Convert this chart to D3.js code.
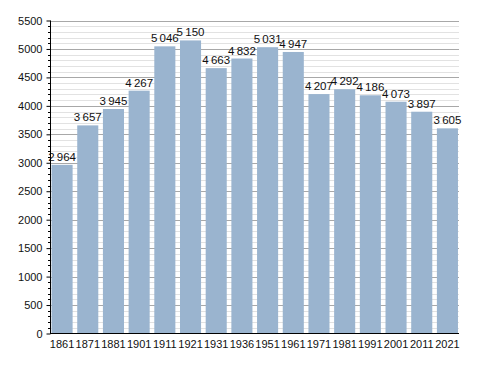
<!DOCTYPE html>
<html>
<head>
<meta charset="utf-8">
<script src="https://cdn.jsdelivr.net/npm/d3@7"></script>
<style>
  body { margin: 0; background: #fff; }
  text { font-family: "Liberation Sans", Arial, sans-serif; }
</style>
</head>
<body>
<aside></aside>
<script>
const width = 488;
const height = 373;

const years = ['1861', '1871', '1881', '1901', '1911', '1921', '1931', '1936',
    '1951', '1961', '1971', '1981', '1991', '2001', '2011', '2021'];
const population = [2964, 3657, 3945, 4267, 5046, 5150, 4663, 4832,
    5031, 4947, 4207, 4292, 4186, 4073, 3897, 3605];
const yTicks = [0, 500, 1000, 1500, 2000, 2500, 3000, 3500, 4000, 4500, 5000, 5500];

const svg = d3.select('aside')
    .append('svg')
    .attr('width', width)
    .attr('height', height);

const x = d3.scaleBand()
    .domain(years)
    .range([50, 459.5])
    .paddingInner(0.18)
    .paddingOuter(0.06);

const y = d3.scaleLinear()
    .domain([0, 5500])
    .range([333.5, 20.5]);

const minor = d3.range(0, 5501, 100);
const fmt = v => d3.format(',')(v).replace(',', '\u2009');

// grid
svg.selectAll('.minor')
    .data(minor.filter(d => d % 500 !== 0))
    .join('line')
    .attr('x1', 50).attr('x2', 459)
    .attr('y1', d => Math.round(y(d)) + 0.5)
    .attr('y2', d => Math.round(y(d)) + 0.5)
    .attr('stroke', '#e2e2e2');

svg.selectAll('.major')
    .data(yTicks.filter(d => d > 0))
    .join('line')
    .attr('x1', 50).attr('x2', 459)
    .attr('y1', d => Math.round(y(d)) + 0.5)
    .attr('y2', d => Math.round(y(d)) + 0.5)
    .attr('stroke', '#a8a8a8');

// bars
svg.selectAll('rect')
    .data(population)
    .join('rect')
    .attr('x', (d, i) => x(years[i]))
    .attr('y', d => y(d))
    .attr('width', x.bandwidth())
    .attr('height', d => y(0) - y(d))
    .attr('fill', '#9ab4cf');

svg.selectAll('.val')
    .data(population)
    .join('text')
    .attr('class', 'val')
    .attr('x', (d, i) => x(years[i]) + x.bandwidth() / 2)
    .attr('y', d => y(d) - 4)
    .attr('text-anchor', 'middle')
    .attr('font-size', 11.5)
    .attr('fill', '#111')
    .text(d => fmt(d));

// y axis
const yAxis = svg.append('g')
    .attr('transform', 'translate(50.5,0)')
    .call(d3.axisLeft(y).tickValues(yTicks).tickSize(4).tickPadding(4).tickFormat(d3.format('d')));
yAxis.select('.domain').attr('d', 'M0,20.5V333.5');
yAxis.selectAll('text').attr('font-size', 11).attr('fill', '#111').attr('font-family', '"Liberation Sans", Arial, sans-serif');

svg.append('g')
    .selectAll('line')
    .data(minor.filter(d => d % 500 !== 0))
    .join('line')
    .attr('x1', 48).attr('x2', 50.5)
    .attr('y1', d => Math.round(y(d)) + 0.5)
    .attr('y2', d => Math.round(y(d)) + 0.5)
    .attr('stroke', '#000');

// x axis
const xAxis = svg.append('g')
    .attr('transform', 'translate(0,333.5)')
    .call(d3.axisBottom(x).tickSize(0).tickPadding(7));
xAxis.select('.domain').attr('d', 'M50,0H459');
xAxis.selectAll('text').attr('font-size', 11).attr('fill', '#111').attr('font-family', '"Liberation Sans", Arial, sans-serif');
</script>
</body>
</html>
